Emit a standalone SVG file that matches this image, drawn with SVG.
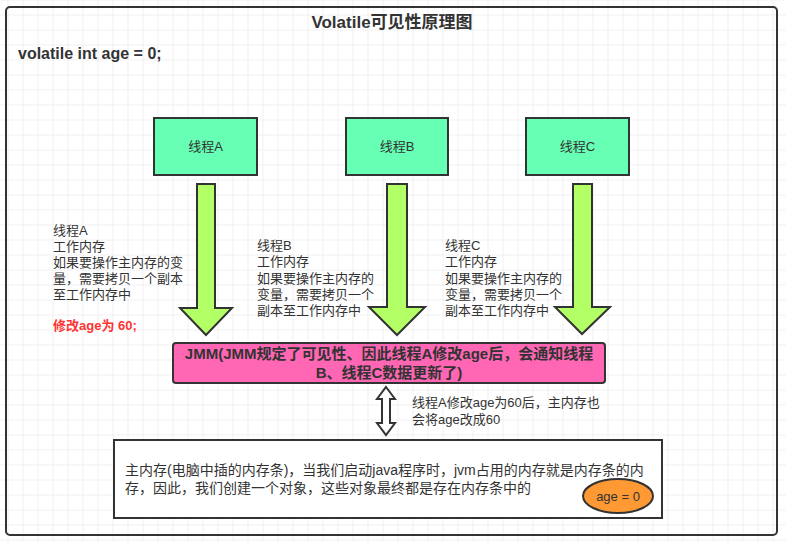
<svg xmlns="http://www.w3.org/2000/svg" width="786" height="542" viewBox="0 0 786 542">
  <defs>
    <pattern id="grid" patternUnits="userSpaceOnUse" x="7.5" y="14.5" width="15" height="15">
      <path d="M0 0H15M0 0V15" fill="none" stroke="#e3e3e3" stroke-width="1"/>
    </pattern>
    <style>
      text { font-family: "Liberation Sans", "Noto Sans CJK SC", sans-serif; fill: #333; }
      .box { stroke: #333; stroke-width: 2; }
      .thread { fill: #66ffb3; }
      .down { fill: #b3ff66; stroke: #333; stroke-width: 2; stroke-linejoin: miter; }
      .note { font-size: 13px; }
      .label { font-size: 13px; text-anchor: middle; }
      .bold { font-weight: bold; }
    </style>
  </defs>

  <!-- canvas -->
  <rect width="786" height="542" fill="#ffffff"/>
  <rect width="786" height="542" fill="url(#grid)"/>

  <!-- outer frame -->
  <rect x="6" y="7" width="771" height="528" rx="4" fill="none" stroke="#333" stroke-width="2"/>
  <text x="392" y="28" font-size="17" class="bold" text-anchor="middle">Volatile可见性原理图</text>
  <text x="18" y="59" font-size="16" class="bold">volatile int age = 0;</text>

  <!-- threads -->
  <g id="threadA">
    <rect class="box thread" x="154" y="118" width="103" height="57"/>
    <text class="label" x="205.5" y="151">线程A</text>
  </g>
  <g id="threadB">
    <rect class="box thread" x="346" y="118" width="102" height="57"/>
    <text class="label" x="397" y="151">线程B</text>
  </g>
  <g id="threadC">
    <rect class="box thread" x="526" y="118" width="103" height="57"/>
    <text class="label" x="577.5" y="151">线程C</text>
  </g>

  <!-- JMM -->
  <g id="jmm">
    <rect class="box" x="173" y="343" width="432" height="40" rx="3" fill="#ff66b3"/>
    <text x="389" y="359" font-size="15" class="bold" text-anchor="middle">JMM(JMM规定了可见性、因此线程A修改age后，会通知线程</text>
    <text x="389" y="378" font-size="15" class="bold" text-anchor="middle">B、线程C数据更新了)</text>
  </g>

  <!-- main memory -->
  <g id="mainMemory">
    <rect class="box" x="114" y="440" width="548" height="78" fill="#ffffff"/>
    <text x="125" y="475" font-size="14">主内存(电脑中插的内存条)，当我们启动java程序时，jvm占用的内存就是内存条的内</text>
    <text x="125" y="493" font-size="14">存，因此，我们创建一个对象，这些对象最终都是存在内存条中的</text>
  </g>
  <g id="ageValue">
    <ellipse cx="618" cy="496" rx="35" ry="17" fill="#ff9933" stroke="#333" stroke-width="2"/>
    <text class="label" x="618" y="501">age = 0</text>
  </g>

  <!-- connectors -->
  <g id="connectors">
    <polygon class="down" points="197,184 215,184 215,308 232,308 206,335 180,308 197,308"/>
    <polygon class="down" points="387,184 407,184 407,307 425,307 397,335 369,307 387,307"/>
    <polygon class="down" points="573,184 592,184 592,307 610,307 582,334 555,307 573,307"/>
    <polygon points="386,387 395,399 390,399 390,423 395,423 386,435 377,423 382,423 382,399 377,399" fill="#ffffff" stroke="#333" stroke-width="2"/>
  </g>

  <!-- notes -->
  <g id="noteA" class="note">
    <text x="53" y="235">线程A</text>
    <text x="53" y="251">工作内存</text>
    <text x="53" y="267">如果要操作主内存的变</text>
    <text x="53" y="283">量，需要拷贝一个副本</text>
    <text x="53" y="299">至工作内存中</text>
    <text x="53" y="330" class="bold" style="fill:#ff3333">修改age为 60;</text>
  </g>
  <g id="noteB" class="note">
    <text x="257" y="250">线程B</text>
    <text x="257" y="266">工作内存</text>
    <text x="257" y="283">如果要操作主内存的</text>
    <text x="257" y="299">变量，需要拷贝一个</text>
    <text x="257" y="315">副本至工作内存中</text>
  </g>
  <g id="noteC" class="note">
    <text x="445" y="250">线程C</text>
    <text x="445" y="266">工作内存</text>
    <text x="445" y="283">如果要操作主内存的</text>
    <text x="445" y="299">变量，需要拷贝一个</text>
    <text x="445" y="315">副本至工作内存中</text>
  </g>
  <g id="noteSync" class="note">
    <text x="412" y="407">线程A修改age为60后，主内存也</text>
    <text x="412" y="424">会将age改成60</text>
  </g>
</svg>
